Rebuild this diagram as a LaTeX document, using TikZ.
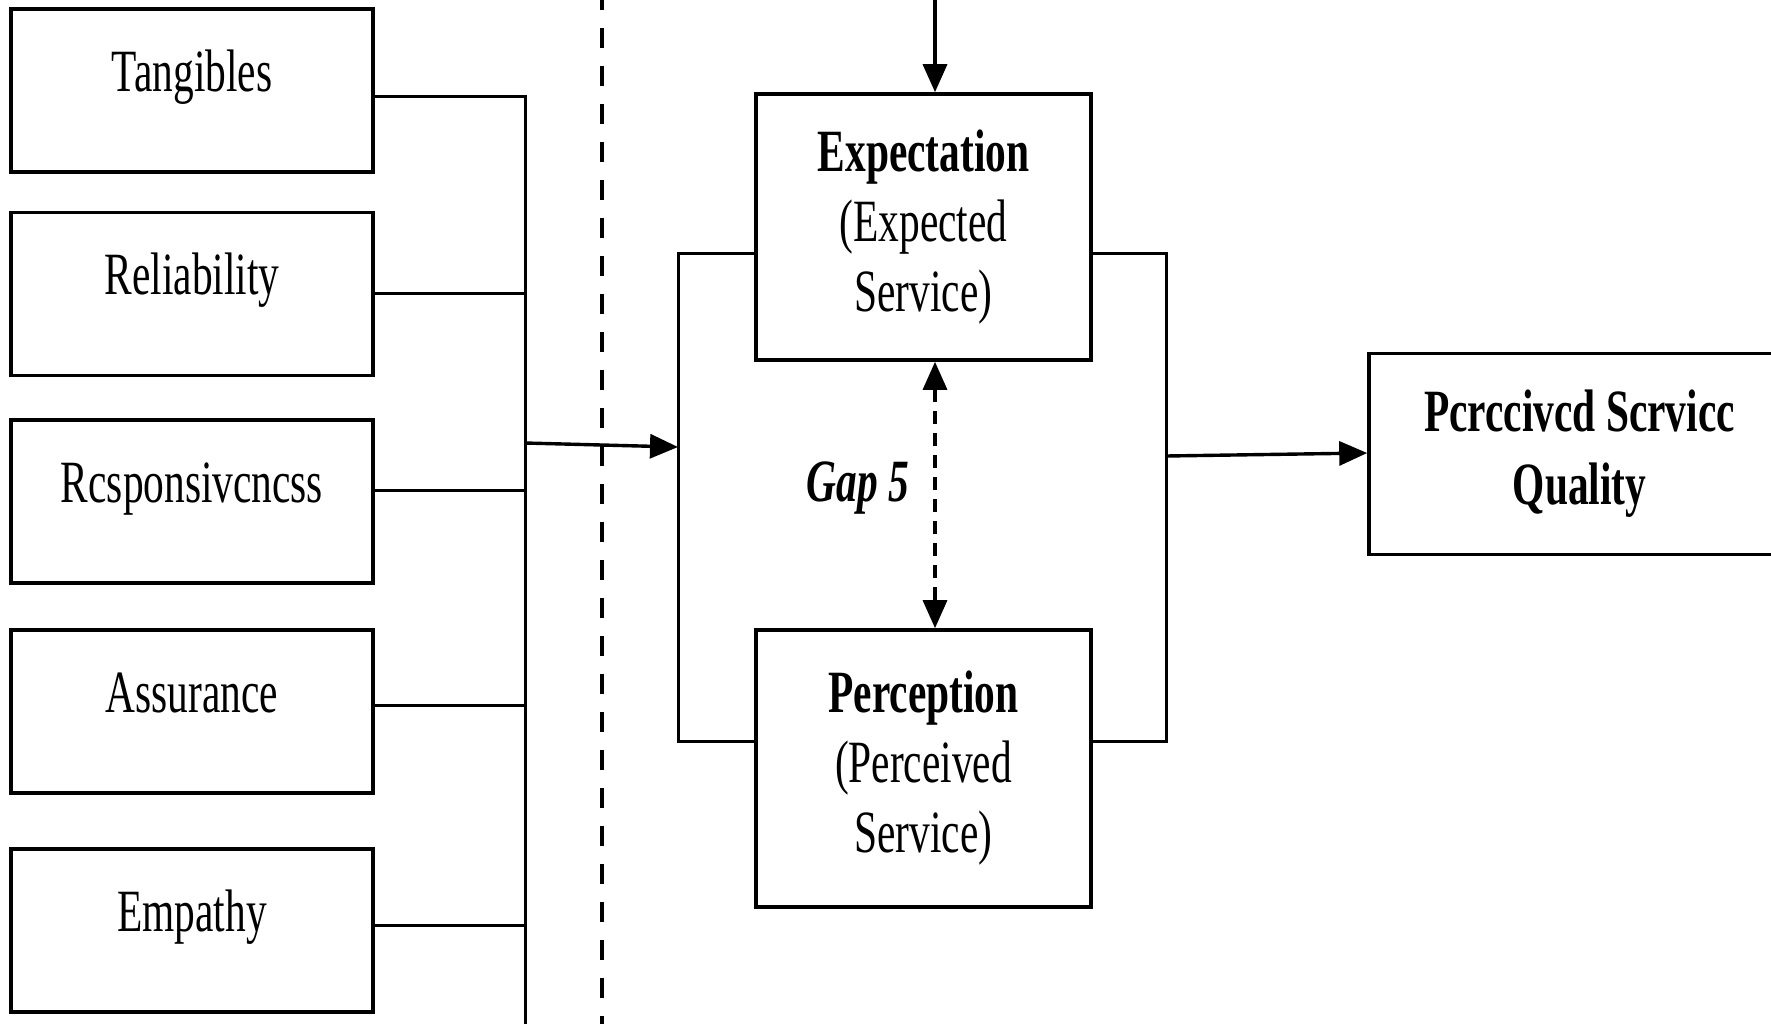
\documentclass[tikz,border=0pt]{standalone}
\usepackage{fontspec}
\setmainfont{Liberation Serif}[FakeStretch=0.69]
\usetikzlibrary{arrows.meta}

\begin{document}
\begin{tikzpicture}[
  x=0.5pt, y=-0.5pt,
  every node/.style={font=\fontsize{30}{35}\selectfont},
  dimbox/.style={draw, line width=1.8pt, inner sep=0pt,
    minimum width=181pt, minimum height=81.5pt},
  dimlbl/.style={inner sep=0pt, text height=0.7em, text depth=0.22em},
  bigbox/.style={draw, line width=1.8pt, inner sep=0pt, align=center,
    minimum width=167.5pt},
  conn/.style={line width=1.5pt},
  arr/.style={line width=1.7pt, -{Triangle[length=14pt,width=12pt]}},
  separator/.style={line width=1.6pt, dash pattern=on 10pt off 9pt},
  gaparrow/.style={line width=1.6pt, dash pattern=on 6.5pt off 4.5pt,
    {Triangle[length=14pt,width=12pt]}-{Triangle[length=14pt,width=12pt]}}
]
\useasboundingbox (0,0) rectangle (1771,1023);

% --- SERVQUAL dimensions ---
\node[dimbox] (tang) at (192,90.5) {};
\node[dimbox] (reli) at (192,294) {};
\node[dimbox] (resp) at (192,501.5) {};
\node[dimbox] (assu) at (192,711.5) {};
\node[dimbox] (empa) at (192,930.5) {};

\path (tang.north) ++(0,79) node[dimlbl] (tangT) {Tangibles};
\path (reli.north) ++(0,79) node[dimlbl] (reliT) {Reliability};
\path (resp.north) ++(0,79) node[dimlbl] (respT) {Rcsponsivcncss};
\path (assu.north) ++(0,79) node[dimlbl] (assuT) {Assurance};
\path (empa.north) ++(0,79) node[dimlbl] (empaT) {Empathy};

% --- collecting bus ---
\coordinate (bus1) at (525,96);
\coordinate (bus2) at (525,293);
\coordinate (bus3) at (525,490);
\coordinate (bus4) at (525,705);
\coordinate (bus5) at (525,925);
\coordinate (busEnd) at (525,1040);
\draw[conn] (tang.east |- bus1) -- (bus1) -- (busEnd);
\draw[conn] (reli.east |- bus2) -- (bus2);
\draw[conn] (resp.east |- bus3) -- (bus3);
\draw[conn] (assu.east |- bus4) -- (bus4);
\draw[conn] (empa.east |- bus5) -- (bus5);

% --- dashed separator ---
\coordinate (sepTop) at (602,-10);
\coordinate (sepBot) at (602,1040);
\draw[separator] (sepTop) -- (sepBot);

% --- expectation / perception ---
\node[bigbox, minimum height=133pt] (expe) at (923.5,227)
  {\textbf{Expectation}\\(Expected\\Service)};
\node[bigbox, minimum height=138.5pt] (perc) at (923.5,768.5)
  {\textbf{Perception}\\(Perceived\\Service)};

% left bracket
\coordinate (lbTop) at (678,253);
\coordinate (lbBot) at (678,741);
\coordinate (lbIn) at (678,447);
\coordinate (busOut) at (525,443);
\draw[conn] (expe.west |- lbTop) -- (lbTop) -- (lbBot) -- (perc.west |- lbBot);
\draw[arr] (busOut) -- (lbIn);

% right bracket
\coordinate (rbTop) at (1166,253);
\coordinate (rbBot) at (1166,741);
\coordinate (rbOut) at (1166,456);
\draw[conn] (expe.east |- rbTop) -- (rbTop) -- (rbBot) -- (perc.east |- rbBot);

% incoming arrow from above
\coordinate (topIn) at (935,-10);
\draw[arr] (topIn) -- (expe.north -| topIn);

% gap 5
\draw[gaparrow] (expe.south -| topIn) -- (perc.north -| topIn);
\node[inner sep=0pt, font=\fontsize{30}{35}\selectfont\bfseries\itshape] (gap) at (858,488) {Gap 5};

% --- result ---
\node[draw, line width=1.8pt, inner sep=0pt, align=center,
  minimum width=210.5pt, minimum height=100.5pt, font=\fontsize{30}{36.5}\selectfont\bfseries]
  (psq) at (1579.5,454) {Pcrccivcd Scrvicc\\Quality};
\coordinate (psqIn) at (1369,453);
\draw[arr] (rbOut) -- (psq.west |- psqIn);

\end{tikzpicture}
\end{document}
